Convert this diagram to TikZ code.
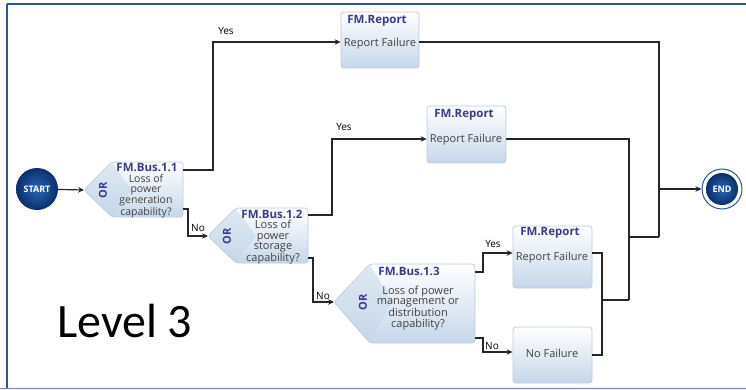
\documentclass[tikz,border=0pt]{standalone}
\usepackage{fontspec}
\setmainfont{Open Sans}
\newfontfamily\levelfont{Carlito}
\usetikzlibrary{arrows.meta,calc}
\definecolor{ttl}{HTML}{3B3A8F}
\definecolor{txt}{HTML}{404040}
\definecolor{bxline}{HTML}{B8CCE0}
\definecolor{bxbot}{HTML}{C6D7EA}
\definecolor{frameblue}{HTML}{2B5597}
\definecolor{framegrey}{HTML}{6F86A8}
\definecolor{circdark}{HTML}{0A2F6A}
\definecolor{circlight}{HTML}{2B66B8}
\tikzset{
  box/.style={draw=bxline, line width=0.8pt, rounded corners=3pt, top color=white, bottom color=bxbot},
  conn/.style={draw=black!85, line width=1.2pt, -{Stealth[length=6pt,width=5.5pt]}},
  plain/.style={draw=black!85, line width=1.2pt},
  ttltext/.style={text=ttl, font=\fontsize{11.5}{12}\selectfont\bfseries, inner sep=0pt},
  bodytext/.style={text=txt, font=\fontsize{11}{10.5}\selectfont, align=center, inner sep=0pt},
  ortext/.style={text=ttl, font=\fontsize{11}{12}\selectfont\bfseries, rotate=90, inner sep=0pt},
  lbl/.style={text=black, font=\fontsize{10}{10}\selectfont, inner sep=0pt},
  terminal/.style={circle, inner sep=0pt, text=white, font=\fontsize{9}{10}\selectfont\bfseries, inner color=circlight, outer color=circdark},
}
\begin{document}
\begin{tikzpicture}[x=1pt,y=-1pt]
\useasboundingbox (0,0) rectangle (746,390);
% frame
\draw[frameblue, line width=2pt] (7,4) -- (746,4);
\draw[frameblue, line width=2.5pt] (7,4) -- (7,388);
\draw[framegrey, line width=1pt] (0,388) -- (746,388);

% START / END
\node[terminal, minimum size=42pt] (start) at (37,189) {START};
\node[circle, draw=frameblue, line width=1pt, fill=white, minimum size=40pt, inner sep=0pt] (endring) at (722,189) {};
\node[terminal, minimum size=32pt] (end) at (722,189) {END};

% decision 1
\path[box] (84,190) -- (112,162) -- (183,162) -- (183,217) -- (112,217) -- cycle;
\fill[bxbot, opacity=0.55] (85,190) -- (112,163) -- (132,190) -- (112,216) -- cycle;
\coordinate (d1tip) at (84,190);
\coordinate (d1yes) at (183,170);
\coordinate (d1no) at (183,209);
\node[ttltext] (d1t) at (147,167) {FM.Bus.1.1};
\node[bodytext, font=\fontsize{10.5}{10}\selectfont] (d1b) at (146,196) {Loss of\\power\\generation\\capability?};
\node[ortext] (d1or) at (103,190) {OR};

% decision 2
\path[box] (208,236) -- (236,208) -- (308,208) -- (308,263) -- (236,263) -- cycle;
\fill[bxbot, opacity=0.55] (209,236) -- (236,209) -- (256,236) -- (236,262) -- cycle;
\coordinate (d2tip) at (208,236);
\coordinate (d2yes) at (308,215);
\coordinate (d2no) at (308,258);
\node[ttltext] (d2t) at (272,214) {FM.Bus.1.2};
\node[bodytext] (d2b) at (273,242.5) {Loss of\\power\\storage\\capability?};
\node[ortext] (d2or) at (227,236) {OR};

% decision 3
\path[box] (334,302) -- (370,264) -- (475,264) -- (475,343) -- (370,343) -- cycle;
\fill[bxbot, opacity=0.55] (335,302) -- (370,265) -- (392,302) -- (370,342) -- cycle;
\coordinate (d3tip) at (334,302);
\coordinate (d3yes) at (475,272);
\coordinate (d3no) at (475,338);
\node[ttltext] (d3t) at (409,271) {FM.Bus.1.3};
\node[bodytext] (d3b) at (418,308) {Loss of power\\management or\\distribution\\capability?};
\node[ortext] (d3or) at (363,302) {OR};

% report boxes
\node[box, minimum width=78pt, minimum height=56pt, inner sep=0pt] (r1) at (380,40) {};
\node[ttltext] at (377,21) {FM.Report};
\node[bodytext] at (380,44) {Report Failure};

\node[box, minimum width=79pt, minimum height=57pt, inner sep=0pt] (r2) at (466.5,134.5) {};
\node[ttltext] at (464,115) {FM.Report};
\node[bodytext] at (466,140) {Report Failure};

\node[box, minimum width=79pt, minimum height=62pt, inner sep=0pt] (r3) at (552.5,257) {};
\node[ttltext] at (550,233) {FM.Report};
\node[bodytext] at (552,258) {Report Failure};

\node[box, minimum width=79pt, minimum height=56pt, inner sep=0pt] (nf) at (552.5,355) {};
\node[bodytext] at (552,353) {No Failure};

% connectors
\draw[conn] (start) -- (d1tip);
\draw[conn] (d1yes) -- (213,170) |- (r1.west |- 0,42);
\node[lbl] (y1) at (226,31) {Yes};
\draw[conn] (d1no) -- (188,209) |- (d2tip);
\node[lbl] (n1) at (198,228) {No};
\draw[conn] (d2yes) -- (332,215) |- (r2.west |- 0,139);
\node[lbl] (y2) at (344,127) {Yes};
\draw[conn] (d2no) -- (313,258) |- (d3tip);
\node[lbl] (n2) at (323,296) {No};
\draw[conn] (d3yes) -- (483,272) |- (r3.west |- 0,253);
\node[lbl] (y3) at (493,244) {Yes};
\draw[conn] (d3no) -- (483,338) |- (nf.west |- 0,352);
\node[lbl] (n3) at (492,346) {No};

\coordinate (j1) at (602,300);
\coordinate (j2) at (629,237);
\coordinate (j3) at (659,189);
\draw[plain] (r3.east |- 0,253) -- (602,253) -- (602,355) -- (nf.east |- 0,355);
\draw[plain] (j1) -- (629,300);
\draw[plain] (r2.east |- 0,139) -- (629,139) -- (629,300);
\draw[plain] (j2) -- (659,237);
\draw[plain] (r1.east |- 0,42) -- (659,42) -- (659,237);
\draw[conn] (j3) -- (endring.west);

% level label
\node[text=black, font=\levelfont\fontsize{48}{50}\selectfont, inner sep=0pt, anchor=base west] (lvl) at (57,337) {Level 3};
\end{tikzpicture}
\end{document}
